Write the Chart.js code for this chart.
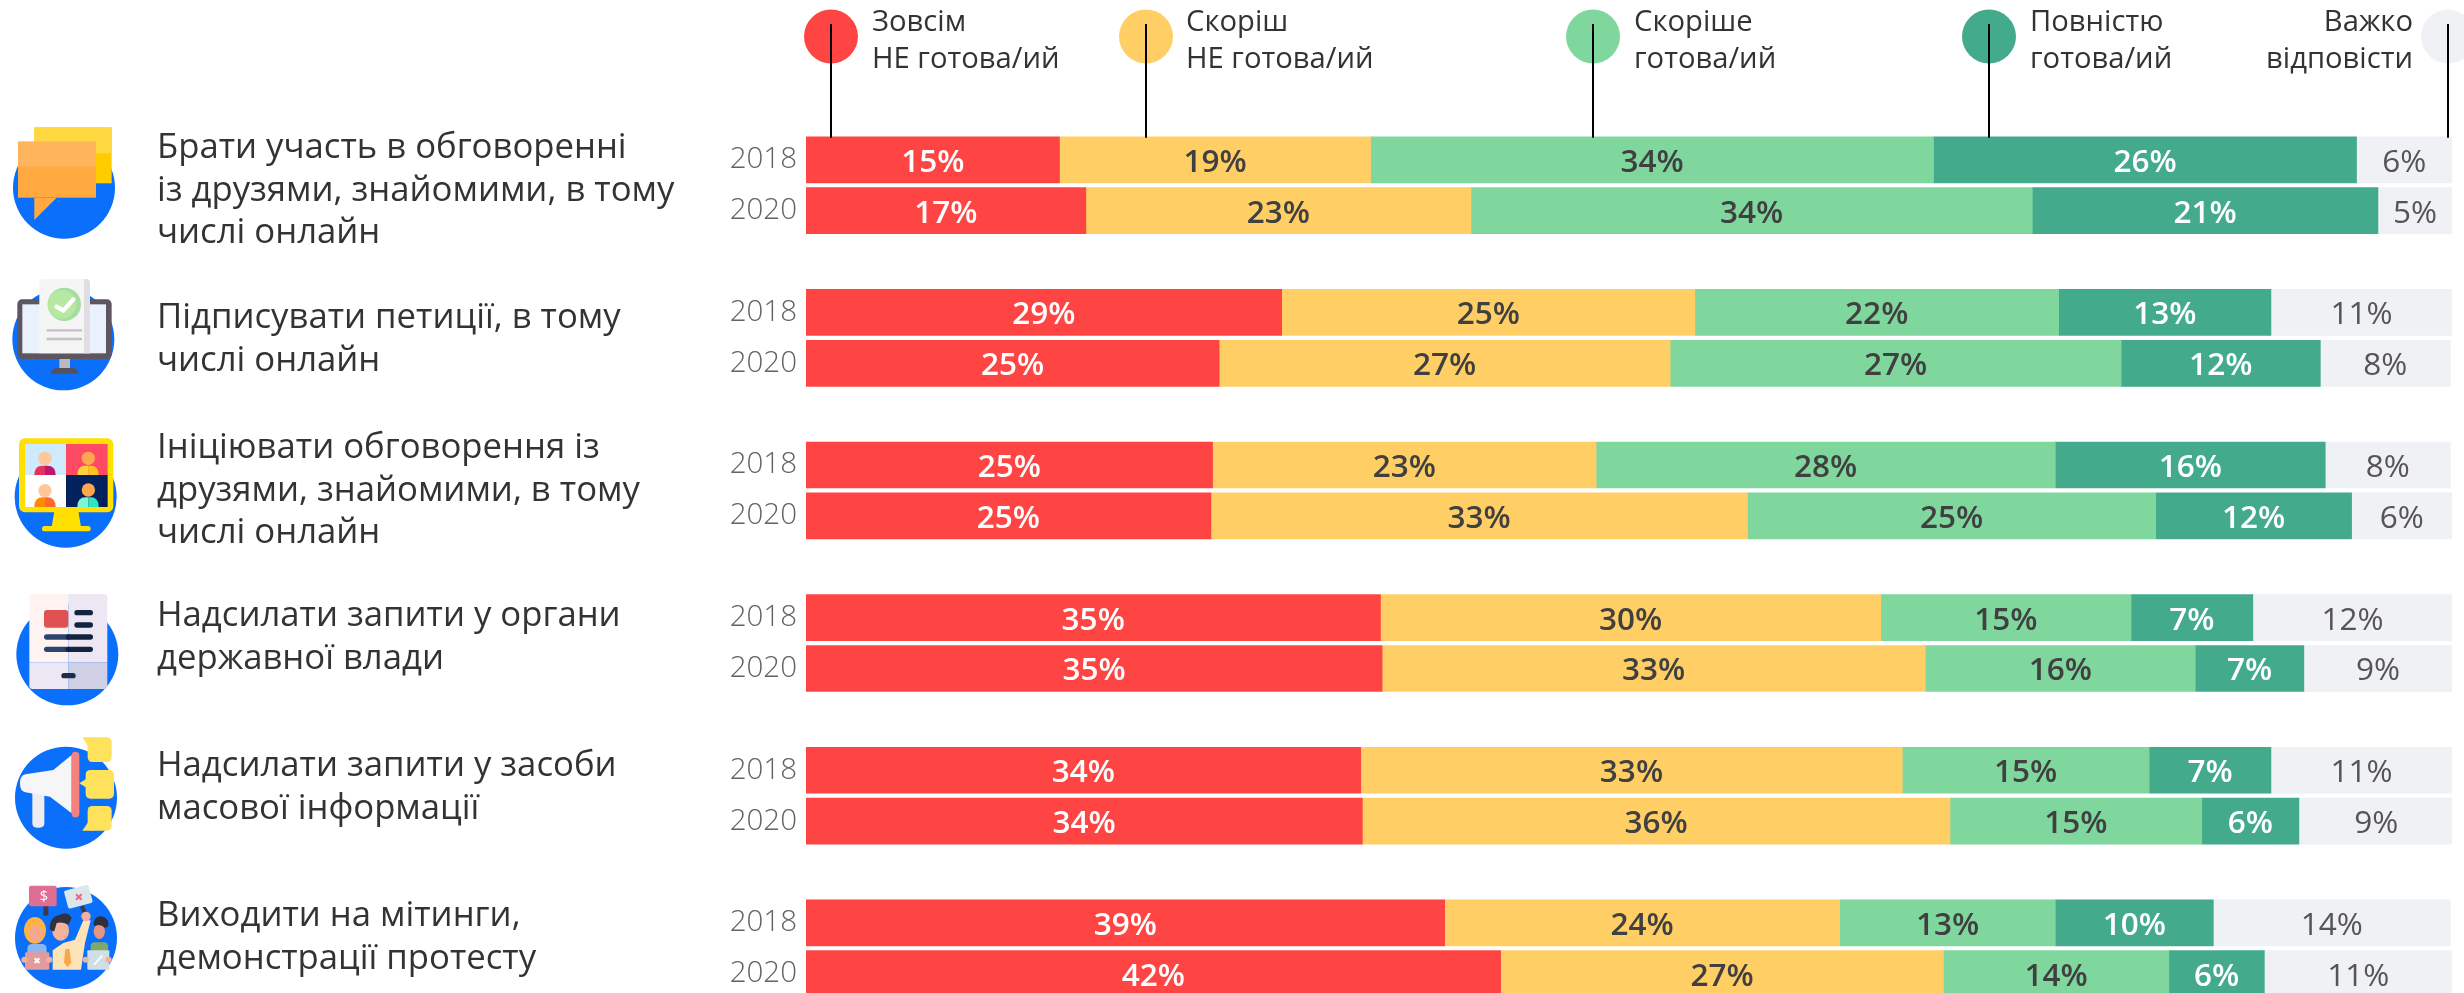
<!DOCTYPE html>
<html lang="uk">
<head>
<meta charset="utf-8">
<title>Готовність до дій</title>
<script src="https://cdn.jsdelivr.net/npm/chart.js@4"></script>
<style>
html, body {margin: 0; padding: 0; background: #fff; overflow: hidden;}
#wrap {position: relative; width: 2464px; height: 993px; overflow: hidden;}
#chart {position: absolute; left: 0; top: 0;}
#icons {position: absolute; left: 0; top: 0;}
</style>
</head>
<body>
<div id="wrap">
<canvas id="chart" width="2464" height="1050"></canvas>
<svg id="icons" width="130" height="993" viewBox="0 0 130 993">
  <!-- speech bubbles -->
  <g transform="translate(0,120) scale(0.3333)">
    <circle cx="192" cy="203" r="153" fill="#0a6ffb"/>
    <rect x="103" y="22" width="232" height="168" fill="#ffcc00"/>
    <rect x="103" y="22" width="232" height="78" fill="#ffd740"/>
    <rect x="54" y="65" width="234" height="168" fill="#ffa940"/>
    <rect x="54" y="65" width="234" height="75" fill="#ffb45c"/>
    <polygon points="103,233 103,300 170,233" fill="#ffa940"/>
  </g>
  <!-- monitor with petition -->
  <g transform="translate(0,270) scale(0.3333)">
    <circle cx="190" cy="208" r="153" fill="#0a6ffb"/>
    <rect x="178" y="265" width="32" height="32" fill="#bdb8c0"/>
    <path d="M152 311 Q155 294 175 294 L214 294 Q234 294 236 311 Z" fill="#55505a"/>
    <rect x="52" y="88" width="283" height="179" rx="14" fill="#5d5660"/>
    <rect x="67" y="103" width="251" height="147" fill="#e9f1fd"/>
    <path d="M118 250 L118 40 Q118 27 131 27 L257 27 Q270 27 270 40 L270 250 Z" fill="#f5f5f5"/>
    <path d="M252 250 L252 27 L257 27 Q270 27 270 40 L270 250 Z" fill="#e0dee3"/>
    <circle cx="193" cy="103" r="50" fill="#a5dca0"/>
    <circle cx="186" cy="103" r="43" fill="#b7e8a2"/>
    <polyline points="170,110 190,122 220,88" fill="none" stroke="#fff" stroke-width="13" stroke-linecap="round" stroke-linejoin="round"/>
    <line x1="140" y1="181" x2="246" y2="181" stroke="#c4bfc8" stroke-width="7"/>
    <line x1="140" y1="207" x2="246" y2="207" stroke="#c4bfc8" stroke-width="7"/>
  </g>
  <!-- video call -->
  <g transform="translate(0,425) scale(0.3333)">
    <circle cx="197" cy="215" r="153" fill="#0a6ffb"/>
    <polygon points="163,258 235,258 243,306 155,306" fill="#ffe000"/>
    <rect x="126" y="303" width="146" height="16" rx="8" fill="#ffe000"/>
    <rect x="57" y="40" width="283" height="222" rx="18" fill="#ffe000"/>
    <rect x="75" y="57" width="123" height="93" fill="#cdebfc"/>
    <rect x="198" y="57" width="125" height="93" fill="#ff4a64"/>
    <rect x="75" y="150" width="123" height="96" fill="#fff"/>
    <rect x="198" y="150" width="125" height="96" fill="#03215c"/>
    <path d="M103 150 Q103 122 128 122 L135 122 L135 150 Z" fill="#e8305e"/>
    <path d="M167 150 Q167 122 142 122 L135 122 L135 150 Z" fill="#c0166b"/>
    <circle cx="135" cy="100" r="20" fill="#ffc89a"/>
    <path d="M232 150 Q232 122 257 122 L265 122 L265 150 Z" fill="#ffd23f"/>
    <path d="M296 150 Q296 122 272 122 L265 122 L265 150 Z" fill="#ffc21f"/>
    <circle cx="265" cy="100" r="20" fill="#ffa74f"/>
    <path d="M103 246 Q103 217 128 217 L135 217 L135 246 Z" fill="#ff8a00"/>
    <path d="M167 246 Q167 217 142 217 L135 217 L135 246 Z" fill="#ff6a2a"/>
    <circle cx="135" cy="197" r="20" fill="#ffc89a"/>
    <path d="M232 246 Q232 217 257 217 L265 217 L265 246 Z" fill="#7df5d9"/>
    <path d="M296 246 Q296 217 272 217 L265 217 L265 246 Z" fill="#2fe6c3"/>
    <circle cx="265" cy="195" r="20" fill="#ffa74f"/>
  </g>
  <!-- document -->
  <g transform="translate(0,585) scale(0.3333)">
    <circle cx="202" cy="208" r="153" fill="#0a6ffb"/>
    <path d="M88 232 L88 37 Q88 27 98 27 L205 27 L205 232 Z" fill="#fff3f1"/>
    <path d="M205 232 L205 27 L312 27 Q322 27 322 37 L322 232 Z" fill="#ede7f3"/>
    <path d="M88 232 L205 232 L205 312 L98 312 Q88 312 88 302 Z" fill="#ede7f3"/>
    <path d="M205 232 L322 232 L322 302 Q322 312 312 312 L205 312 Z" fill="#cfd0e6"/>
    <rect x="132" y="75" width="73" height="53" rx="9" fill="#e05252"/>
    <line x1="231" y1="83" x2="271" y2="83" stroke="#14233f" stroke-width="16" stroke-linecap="round"/>
    <line x1="231" y1="120" x2="271" y2="120" stroke="#14233f" stroke-width="16" stroke-linecap="round"/>
    <line x1="140" y1="156" x2="205" y2="156" stroke="#2c4570" stroke-width="16" stroke-linecap="round"/>
    <line x1="205" y1="156" x2="271" y2="156" stroke="#14233f" stroke-width="16" stroke-linecap="round"/>
    <line x1="140" y1="193" x2="205" y2="193" stroke="#2c4570" stroke-width="16" stroke-linecap="round"/>
    <line x1="205" y1="193" x2="271" y2="193" stroke="#14233f" stroke-width="16" stroke-linecap="round"/>
    <line x1="192" y1="272" x2="219" y2="272" stroke="#1d2c48" stroke-width="16" stroke-linecap="round"/>
  </g>
  <!-- megaphone -->
  <g transform="translate(0,730) scale(0.3333)">
    <circle cx="198" cy="203" r="153" fill="#0a6ffb"/>
    <path d="M97 188 L133 195 L133 280 Q133 293 118 293 L110 293 Q97 293 97 280 Z" fill="#eeecf1"/>
    <path d="M76 133 L160 120 L215 75 L215 250 L150 200 L76 187 Q60 184 60 160 Q60 136 76 133 Z" fill="#f6f5f8"/>
    <rect x="215" y="65" width="23" height="197" rx="11" fill="#f5817e"/>
    <rect x="263" y="22" width="72" height="74" rx="14" fill="#ffe25c"/>
    <polygon points="247,22 280,22 265,50" fill="#ffe25c"/>
    <rect x="257" y="120" width="85" height="86" rx="14" fill="#ffe25c"/>
    <polygon points="238,160 262,145 262,175" fill="#ffe25c"/>
    <rect x="263" y="228" width="72" height="74" rx="14" fill="#ffe25c"/>
    <polygon points="247,302 280,302 265,276" fill="#ffe25c"/>
  </g>
  <!-- protesters -->
  <g transform="translate(0,863) scale(0.3333)">
    <circle cx="198" cy="225" r="153" fill="#0a6ffb"/>
    <rect x="130" y="128" width="15" height="30" fill="#3c3a48"/>
    <rect x="87" y="68" width="83" height="62" rx="6" fill="#de6e92"/>
    <text x="132" y="115" font-family="Open Sans" font-size="44" fill="#fff" text-anchor="middle">$</text>
    <line x1="245" y1="130" x2="258" y2="155" stroke="#3c3a48" stroke-width="13"/>
    <rect x="197" y="73" width="76" height="56" rx="6" fill="#dce7ec" transform="rotate(-15 235 101)"/>
    <path d="M228 94 L245 110 M245 94 L228 110" stroke="#f2618a" stroke-width="6"/>
    <ellipse cx="105" cy="202" rx="33" ry="40" fill="#ffb347"/>
    <ellipse cx="108" cy="212" rx="20" ry="25" fill="#f4a88e"/>
    <rect x="82" y="243" width="58" height="40" rx="14" fill="#8db5f0"/>
    <rect x="75" y="268" width="73" height="52" rx="4" fill="#e29a9c"/>
    <path d="M104 286 L118 300 M118 286 L104 300" stroke="#fff" stroke-width="6"/>
    <circle cx="73" cy="290" r="9" fill="#f4b09a"/>
    <circle cx="148" cy="290" r="9" fill="#f4b09a"/>
    <path d="M158 320 L158 262 L190 240 L225 230 L250 172 L272 172 L255 240 L243 320 Z" fill="#ffe3b8"/>
    <polygon points="196,258 208,258 214,298 203,313 192,298" fill="#f7a84d"/>
    <ellipse cx="182" cy="203" rx="25" ry="30" fill="#f4b49a"/>
    <path d="M149 195 Q150 160 180 155 Q205 145 215 165 L205 185 Q185 175 170 180 L163 205 Q150 205 149 195 Z" fill="#33303f"/>
    <circle cx="258" cy="160" r="14" fill="#f4b09a"/>
    <rect x="272" y="238" width="52" height="34" rx="12" fill="#7fa86a"/>
    <ellipse cx="298" cy="205" rx="17" ry="23" fill="#e8967f"/>
    <path d="M280 182 Q285 158 305 160 Q328 165 325 190 L315 195 Q300 180 285 190 Z" fill="#2f2e3a"/>
    <rect x="262" y="262" width="66" height="58" rx="3" fill="#cfdfe4"/>
    <path d="M282 305 L308 277" stroke="#fff" stroke-width="5"/>
    <circle cx="257" cy="290" r="9" fill="#f4b09a"/>
    <circle cx="326" cy="290" r="9" fill="#f4b09a"/>
  </g>
</svg>
</div>
<script>
// Data, two values per question: 2018 then 2020
const years = ['2018', '2020'];
const questions = [
    ['Брати участь в обговоренні', 'із друзями, знайомими, в тому', 'числі онлайн'],
    ['Підписувати петиції, в тому', 'числі онлайн'],
    ['Ініціювати обговорення із', 'друзями, знайомими, в тому', 'числі онлайн'],
    ['Надсилати запити у органи', 'державної влади'],
    ['Надсилати запити у засоби', 'масової інформації'],
    ['Виходити на мітинги,', 'демонстрації протесту']
];
const legendLines = [
    ['Зовсім', 'НЕ готова/ий'],
    ['Скоріш', 'НЕ готова/ий'],
    ['Скоріше', 'готова/ий'],
    ['Повністю', 'готова/ий'],
    ['Важко', 'відповісти']
];
const notAtAll =    [15.4, 17.0, 28.9, 25.1, 24.7, 24.6, 34.9, 35.0, 33.7, 33.8, 38.8, 42.2];
const ratherNot =   [18.9, 23.4, 25.1, 27.4, 23.3, 32.6, 30.4, 33.0, 32.9, 35.7, 24.0, 26.9];
const ratherReady = [34.2, 34.1, 22.1, 27.4, 27.9, 24.8, 15.2, 16.4, 15.0, 15.3, 13.1, 13.7];
const fullyReady =  [25.7, 21.0, 12.9, 12.1, 16.4, 11.9, 7.4, 6.6, 7.4, 5.9, 9.6, 5.8];
const hardToSay =   [5.8, 4.5, 11.0, 7.9, 7.6, 6.1, 12.1, 9.0, 11.0, 9.4, 14.4, 11.4];

const seriesValues = [notAtAll, ratherNot, ratherReady, fullyReady, hardToSay];
const seriesColors = ['#ff4444', '#ffcf66', '#7fd79e', '#43ab8b', '#f0f1f5'];
const labelColors = ['#ffffff', '#404040', '#404040', '#ffffff', '#555555'];
const labelWeights = ['600', '600', '600', '600', '400'];

// Layout of the text and legend around the plot
const barLeft = 806;
const barRight = 2452;
const plotTop = 134.4;
const questionX = 157;
const questionBaselines = [158, 328, 458, 626, 776, 926];
const questionLeading = 42.5;
const legendDotX = [831, 1146, 1593, 1989, 2448];
const legendTextX = [872, 1186, 1634, 2030, 2413];

// each question gets two rows and one empty row after it
const rowLabels = [];
questions.forEach(() => rowLabels.push(years[0], years[1], ''));

function withGaps(values) {
    const out = [];
    for (let i = 0; i < values.length; i += 2) {
        out.push(values[i], values[i + 1], null);
    }
    return out;
}

const datasets = seriesValues.map((values, i) => ({
    data: withGaps(values),
    backgroundColor: seriesColors[i],
    borderWidth: 0
}));

// Percent labels in the middle of each segment
const segmentLabels = {
    id: 'segmentLabels',
    afterDatasetsDraw(chart) {
        const ctx = chart.ctx;
        ctx.save();
        ctx.textAlign = 'center';
        ctx.textBaseline = 'middle';
        chart.data.datasets.forEach((ds, i) => {
            const meta = chart.getDatasetMeta(i);
            ctx.font = labelWeights[i] + ' 31.5px "Open Sans"';
            ctx.fillStyle = labelColors[i];
            meta.data.forEach((bar, j) => {
                if (ds.data[j] === null) return;
                ctx.fillText(Math.round(ds.data[j]) + '%', (bar.x + bar.base) / 2, bar.y + 3);
            });
        });
        ctx.restore();
    }
};

// Question text on the left, legend dots with leader lines on top
const sideText = {
    id: 'sideText',
    afterDraw(chart) {
        const ctx = chart.ctx;
        ctx.save();
        ctx.textBaseline = 'alphabetic';
        ctx.fillStyle = '#333333';
        ctx.textAlign = 'left';
        ctx.font = '400 34.7px "Open Sans"';
        questions.forEach((lines, i) => {
            lines.forEach((line, j) => {
                ctx.fillText(line, questionX, questionBaselines[i] + j * questionLeading);
            });
        });
        const top = chart.chartArea.top + 2.4;
        ctx.font = '400 29.2px "Open Sans"';
        legendLines.forEach((lines, i) => {
            ctx.fillStyle = seriesColors[i];
            ctx.beginPath();
            ctx.arc(legendDotX[i], 36.5, 27, 0, Math.PI * 2);
            ctx.fill();
            ctx.strokeStyle = '#000000';
            ctx.lineWidth = 2;
            ctx.beginPath();
            ctx.moveTo(legendDotX[i], 24);
            ctx.lineTo(legendDotX[i], top + 1);
            ctx.stroke();
            ctx.fillStyle = '#333333';
            ctx.textAlign = i === 4 ? 'right' : 'left';
            ctx.fillText(lines[0], legendTextX[i], 31);
            ctx.fillText(lines[1], legendTextX[i], 68);
        });
        ctx.restore();
    }
};

const chart = new Chart(document.getElementById('chart').getContext('2d'), {
    type: 'bar',
    data: {labels: rowLabels, datasets: datasets},
    plugins: [segmentLabels, sideText],
    options: {
        indexAxis: 'y',
        responsive: false,
        animation: false,
        barThickness: 46,
        categoryPercentage: 1,
        layout: {padding: {left: 0, right: 2464 - barRight, top: plotTop, bottom: 0}},
        plugins: {legend: {display: false}, tooltip: {enabled: false}},
        scales: {
            x: {display: false, stacked: true, min: 0, max: 100},
            y: {
                stacked: true,
                grid: {display: false},
                border: {display: false},
                afterFit(scale) {
                    scale.width = barLeft;
                    scale.paddingTop = 0;
                    scale.paddingBottom = 0;
                },
                ticks: {
                    autoSkip: false,
                    padding: 1,
                    color: '#626262',
                    font: {family: 'Open Sans', size: 29.5, weight: '300'}
                }
            }
        }
    }
});
</script>
</body>
</html>
